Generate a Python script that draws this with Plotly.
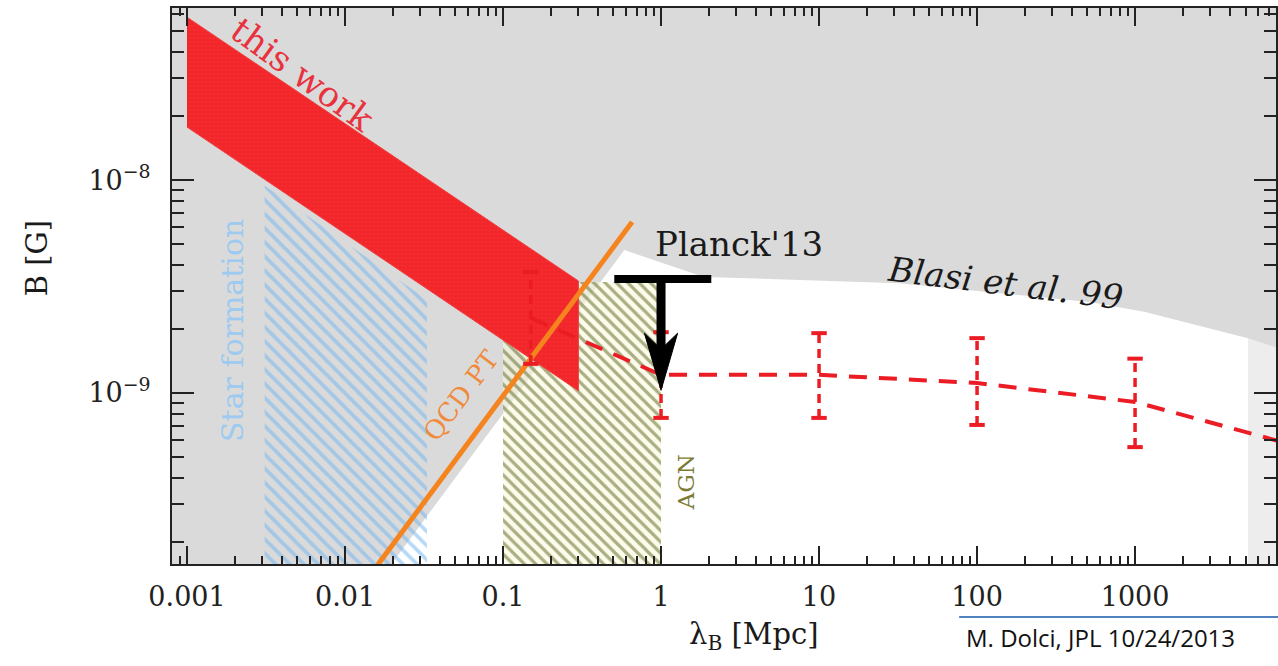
import math
import plotly.graph_objects as go

# ---------------- data ----------------
x_tick_vals = [0.001, 0.01, 0.1, 1, 10, 100, 1000]
x_tick_text = ["0.001", "0.01", "0.1", "1", "10", "100", "1000"]
y_tick_vals = [1e-9, 1e-8]
y_tick_text = ["10<sup>−9</sup>", "10<sup>−8</sup>"]

# allowed (white) region below Blasi et al. 99 and right of the QCD edge
allowed_lambda = [0.0125, 0.585, 1.87, 31.9, 528, 1159, 5190, 5190]
allowed_B = [1.0e-10, 4.69e-9, 3.51e-9, 3.28e-9, 2.67e-9, 2.40e-9, 1.81e-9, 1.0e-10]

# light strip at the far right
edge_lambda = [5190, 7800, 10000, 10000, 5190]
edge_B = [1.81e-9, 1.64e-9, 1.57e-9, 1.0e-10, 1.0e-10]

# "this work" band
this_work_lambda = [0.001, 0.3, 0.3, 0.001]
this_work_B = [5.82e-8, 3.36e-9, 1.024e-9, 1.774e-8]

# Star formation hatched region
star_lambda = [0.0031, 0.033, 0.033, 0.0031]
star_B = [9.4e-9, 2.74e-9, 1.0e-10, 1.0e-10]

# AGN hatched region
agn_lambda = [0.1, 1.0, 1.0, 0.1]
agn_B = [3.32e-9, 3.32e-9, 1.0e-10, 1.0e-10]

# QCD phase transition line
qcd_lambda = [0.0161, 0.656]
qcd_B = [1.56e-10, 6.36e-9]

# red dashed constraint with error bars
data_lambda = [0.15, 1, 10, 100, 1000, 10000]
data_B = [2.25e-9, 1.217e-9, 1.217e-9, 1.114e-9, 9.08e-10, 5.70e-10]
data_B_hi = [3.70e-9, 1.93e-9, 1.91e-9, 1.81e-9, 1.45e-9, 9.0e-10]
data_B_lo = [1.37e-9, 7.64e-10, 7.64e-10, 7.08e-10, 5.57e-10, 3.6e-10]

# Planck'13 upper limit
planck_lambda = [0.506, 2.08]
planck_B = 3.43e-9
planck_arrow_lambda = 1.0
planck_arrow_tip = 1.03e-9

# ---------------- figure ----------------
SERIF = "DejaVu Serif"
fig = go.Figure()

fig.add_trace(go.Scatter(x=allowed_lambda, y=allowed_B, fill="toself", fillcolor="white",
                         mode="lines", line=dict(width=0), hoverinfo="skip", showlegend=False))
fig.add_trace(go.Scatter(x=edge_lambda, y=edge_B, fill="toself", fillcolor="#ededed",
                         mode="lines", line=dict(width=0), hoverinfo="skip", showlegend=False))

fig.add_trace(go.Scatter(x=star_lambda, y=star_B, fill="toself", fillcolor="rgba(0,0,0,0)",
                         fillpattern=dict(shape="\\", fgcolor="#6fb3f2", bgcolor="rgba(0,0,0,0)",
                                          size=10, solidity=0.38),
                         mode="lines", line=dict(width=0), hoverinfo="skip", showlegend=False))

fig.add_trace(go.Scatter(x=agn_lambda, y=agn_B, fill="toself", fillcolor="rgba(0,0,0,0)",
                         fillpattern=dict(shape="\\", fgcolor="#55601c", bgcolor="rgba(252,250,222,0.6)",
                                          size=8, solidity=0.4),
                         mode="lines", line=dict(width=0), hoverinfo="skip", showlegend=False))

fig.add_trace(go.Scatter(x=this_work_lambda, y=this_work_B, fill="toself", fillcolor="#f42a2c",
                         fillpattern=dict(shape="+", fgcolor="rgba(255,150,150,0.55)", bgcolor="#f22428",
                                          size=4, solidity=0.12),
                         mode="lines", line=dict(width=1, color="#f04040"),
                         hoverinfo="skip", showlegend=False))

fig.add_trace(go.Scatter(x=qcd_lambda, y=qcd_B, mode="lines",
                         line=dict(color="#f5841f", width=5), hoverinfo="skip", showlegend=False))

# error bars (dashed verticals)
eb_x, eb_y = [], []
for lam, lo, hi in zip(data_lambda, data_B_lo, data_B_hi):
    eb_x += [lam, lam, None]
    eb_y += [lo, hi, None]
fig.add_trace(go.Scatter(x=eb_x, y=eb_y, mode="lines",
                         line=dict(color="#ec1c24", width=3.5, dash="9px,6px"),
                         hoverinfo="skip", showlegend=False))
fig.add_trace(go.Scatter(x=data_lambda + data_lambda, y=data_B_hi + data_B_lo, mode="markers",
                         marker=dict(symbol="line-ew", size=11, line=dict(color="#ec1c24", width=4)),
                         hoverinfo="skip", showlegend=False))
fig.add_trace(go.Scatter(x=data_lambda, y=data_B, mode="lines",
                         line=dict(color="#ec1c24", width=4, dash="18px,12px"),
                         hoverinfo="skip", showlegend=False))

# Planck'13 limit: bar + arrow
fig.add_trace(go.Scatter(x=planck_lambda, y=[planck_B, planck_B], mode="lines",
                         line=dict(color="black", width=8), hoverinfo="skip", showlegend=False))
head_len = 0.268   # dex
head_w = 0.105     # dex
tip = planck_arrow_tip
lx = planck_arrow_lambda
base = tip * 10 ** head_len
notch = tip * 10 ** (0.72 * head_len)
fig.add_trace(go.Scatter(x=[lx, lx], y=[planck_B, notch], mode="lines",
                         line=dict(color="black", width=9), hoverinfo="skip", showlegend=False))
fig.add_trace(go.Scatter(x=[lx * 10 ** -head_w, lx, lx * 10 ** head_w, lx, lx * 10 ** -head_w],
                         y=[base, tip, base, notch, base], fill="toself", fillcolor="black",
                         mode="lines", line=dict(color="black", width=1),
                         hoverinfo="skip", showlegend=False))

# ---------------- text ----------------
def add_text(text, lx_, ly_, color, size, angle=0, italic=False):
    fig.add_annotation(x=lx_, y=ly_, xref="x", yref="y", text=text, showarrow=False,
                       xanchor="center", yanchor="middle",
                       textangle=angle, font=dict(family=SERIF, size=size, color=color,
                                                  style="italic" if italic else "normal"))

add_text("this work", -2.267, -7.507, "#e8323e", 35, angle=36)
add_text("Star formation", -2.709, -8.704, "#9ccaf0", 30, angle=-90)
add_text("QCD PT", -1.263, -9.009, "#f08a3c", 26, angle=-53)
add_text("AGN", 0.159, -9.418, "#7c7c34", 23, angle=-90)
add_text("Planck'13", 0.493, -8.300, "#1a1a1a", 34)
add_text("Blasi et al. 99", 2.180, -8.484, "#1a1a1a", 34, angle=7, italic=True)

fig.add_annotation(x=0.5276, y=-0.1295, xref="paper", yref="paper", showarrow=False,
                   xanchor="center", yanchor="middle",
                   text="λ<sub>B</sub> [Mpc]", font=dict(family=SERIF, size=29, color="#1a1a1a"))
fig.add_annotation(x=-0.1222, y=0.55, xref="paper", yref="paper", showarrow=False, textangle=-90,
                   xanchor="center", yanchor="middle",
                   text="B [G]", font=dict(family=SERIF, size=29, color="#1a1a1a"))
fig.add_annotation(x=0.7176, y=-0.133, xref="paper", yref="paper", showarrow=False,
                   xanchor="left", yanchor="middle", text="M. Dolci, JPL 10/24/2013",
                   font=dict(family="Open Sans", size=24, color="#111"))
fig.add_shape(type="line", xref="paper", yref="paper", x0=0.713, x1=1.02, y0=-0.0953, y1=-0.0953,
              line=dict(color="#4f81bd", width=2))

# ---------------- axes ----------------
def minor_vals(lo, hi):
    out = []
    for k in range(lo, hi + 1):
        for d in range(2, 10):
            out.append(d * 10.0 ** k)
    return out

fig.update_xaxes(type="log", range=[-3.095, 3.892], tickmode="array",
                 tickvals=x_tick_vals, ticktext=x_tick_text,
                 ticks="inside", ticklen=18, tickwidth=1.5, tickcolor="#222",
                 mirror="ticks", showline=True, linecolor="#222", linewidth=2,
                 showgrid=False, zeroline=False, ticklabelstandoff=8,
                 tickfont=dict(family=SERIF, size=27, color="#222"),
                 minor=dict(ticks="inside", ticklen=8, tickwidth=1.5, tickcolor="#222",
                            tickmode="array", tickvals=minor_vals(-4, 4), showgrid=False))
fig.update_yaxes(type="log", range=[-9.803, -7.192], tickmode="array",
                 tickvals=y_tick_vals, ticktext=y_tick_text,
                 ticks="inside", ticklen=22, tickwidth=1.5, tickcolor="#222",
                 mirror="ticks", showline=True, linecolor="#222", linewidth=2,
                 showgrid=False, zeroline=False, ticklabelstandoff=14,
                 tickfont=dict(family=SERIF, size=27, color="#222"),
                 minor=dict(ticks="inside", ticklen=12, tickwidth=1.5, tickcolor="#222",
                            tickmode="array", tickvals=minor_vals(-11, -7), showgrid=False))

fig.update_layout(width=1278, height=666, autosize=False,
                  margin=dict(l=172, r=0, t=8, b=102),
                  paper_bgcolor="white", plot_bgcolor="#dadada", showlegend=False)

fig.write_html("out.html", config={"displayModeBar": False},
               post_script="document.body.style.margin='0px';document.body.style.overflow='hidden';")
